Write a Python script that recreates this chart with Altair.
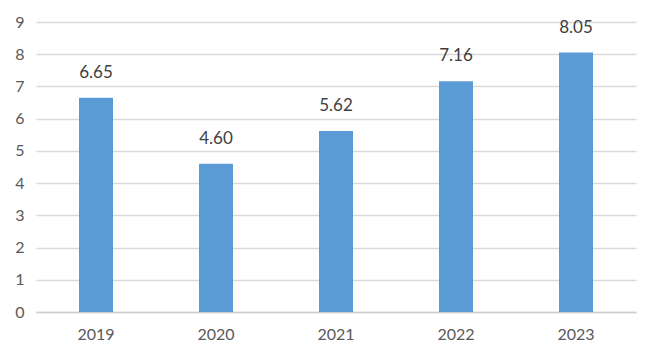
import altair as alt
import pandas as pd

years = ["2019", "2020", "2021", "2022", "2023"]
values = [6.65, 4.60, 5.62, 7.16, 8.05]
labels = ["6.65", "4.60", "5.62", "7.16", "8.05"]
y_ticks = [0, 1, 2, 3, 4, 5, 6, 7, 8, 9]

df = pd.DataFrame({"year": years, "value": values, "label": labels})

FONT = "Lato"

x = alt.X("year:N", sort=years, title=None,
          scale=alt.Scale(paddingInner=0, paddingOuter=0),
          axis=alt.Axis(labelAngle=0, ticks=False, domain=True, domainColor="#d0d0d0",
                        domainWidth=1.5, labelPadding=14, labelFont=FONT, labelFontSize=16,
                        labelColor="#595959", grid=False))
y = alt.Y("value:Q", title=None,
          scale=alt.Scale(domain=[0, 9], nice=False),
          axis=alt.Axis(values=y_ticks, ticks=False, domain=False, grid=True,
                        labelOverlap=False,
                        gridColor="#d9d9d9", gridWidth=1.3, labelPadding=12,
                        labelFont=FONT, labelFontSize=16, labelColor="#595959"))

bars = alt.Chart(df).mark_bar(size=34, color="#5b9bd5").encode(x=x, y=y)
text = alt.Chart(df).mark_text(dy=-16, font=FONT, fontSize=17, color="#404040",
                               baseline="bottom").encode(x=x, y=y, text="label:N")

chart = alt.layer(bars, text).properties(
    width=600, height=290,
    autosize=alt.AutoSizeParams(type="none"),
    padding={"left": 28, "top": 14, "right": 14, "bottom": 40},
).configure_view(stroke=None)

chart.save("out.html", embed_options={"renderer": "svg", "actions": False})
